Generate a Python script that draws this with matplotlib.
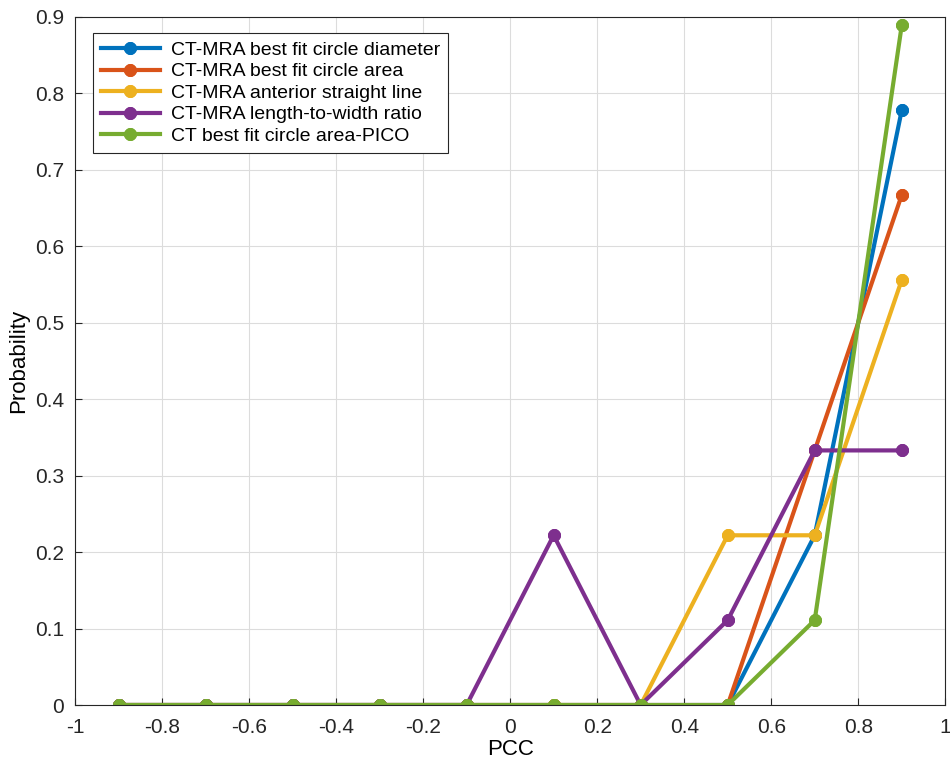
import matplotlib
matplotlib.use("Agg")
import matplotlib.pyplot as plt

plt.rcParams['font.family'] = ['Liberation Sans', 'DejaVu Sans']

pcc = [-0.9, -0.7, -0.5, -0.3, -0.1, 0.1, 0.3, 0.5, 0.7, 0.9]
diameter = [0, 0, 0, 0, 0, 0, 0, 0, 0.222, 0.778]
area = [0, 0, 0, 0, 0, 0, 0, 0, 0.333, 0.667]
straight = [0, 0, 0, 0, 0, 0, 0, 0.222, 0.222, 0.556]
ratio = [0, 0, 0, 0, 0, 0.222, 0, 0.111, 0.333, 0.333]
pico = [0, 0, 0, 0, 0, 0, 0, 0, 0.111, 0.889]

labels = ['CT-MRA best fit circle diameter',
          'CT-MRA best fit circle area',
          'CT-MRA anterior straight line',
          'CT-MRA length-to-width ratio',
          'CT best fit circle area-PICO']
colors = ['#0072BD', '#D95319', '#EDB120', '#7E2F8E', '#77AC30']
series = [diameter, area, straight, ratio, pico]

fig = plt.figure(figsize=(9.5, 7.68), dpi=100)
ax = fig.add_axes([0.079, 0.082, 0.916, 0.896])

for s, c, lab in zip(series, colors, labels):
    ax.plot(pcc, s, color=c, lw=3, marker=(8, 2, 0), ms=9, mew=3, label=lab)

ax.set_xlim(-1, 1)
ax.set_ylim(0, 0.9)
ax.set_xticks([-1, -0.8, -0.6, -0.4, -0.2, 0, 0.2, 0.4, 0.6, 0.8, 1])
ax.set_xticklabels(['-1', '-0.8', '-0.6', '-0.4', '-0.2', '0', '0.2', '0.4', '0.6', '0.8', '1'])
ax.set_yticks([0, 0.1, 0.2, 0.3, 0.4, 0.5, 0.6, 0.7, 0.8, 0.9])
ax.set_yticklabels(['0', '0.1', '0.2', '0.3', '0.4', '0.5', '0.6', '0.7', '0.8', '0.9'])
ax.grid(True, color='#dcdcdc', lw=0.8)
ax.set_axisbelow(True)
ax.tick_params(labelsize=15, direction='in', length=5, colors='#262626')
ax.tick_params(axis='x', pad=9)
ax.tick_params(axis='y', pad=8)
for sp in ax.spines.values():
    sp.set_color('#262626')
ax.set_xlabel('PCC', fontsize=16, labelpad=2)
ax.set_ylabel('Probability', fontsize=16, labelpad=4)

leg = ax.legend(loc='upper left', fontsize=14, fancybox=False, framealpha=1,
                edgecolor='#262626', handlelength=3.0, borderpad=0.4,
                labelspacing=0.2, handletextpad=0.6, bbox_to_anchor=(0.01, 0.99))
leg.get_frame().set_linewidth(0.8)

fig.savefig('out.png', dpi=100)
